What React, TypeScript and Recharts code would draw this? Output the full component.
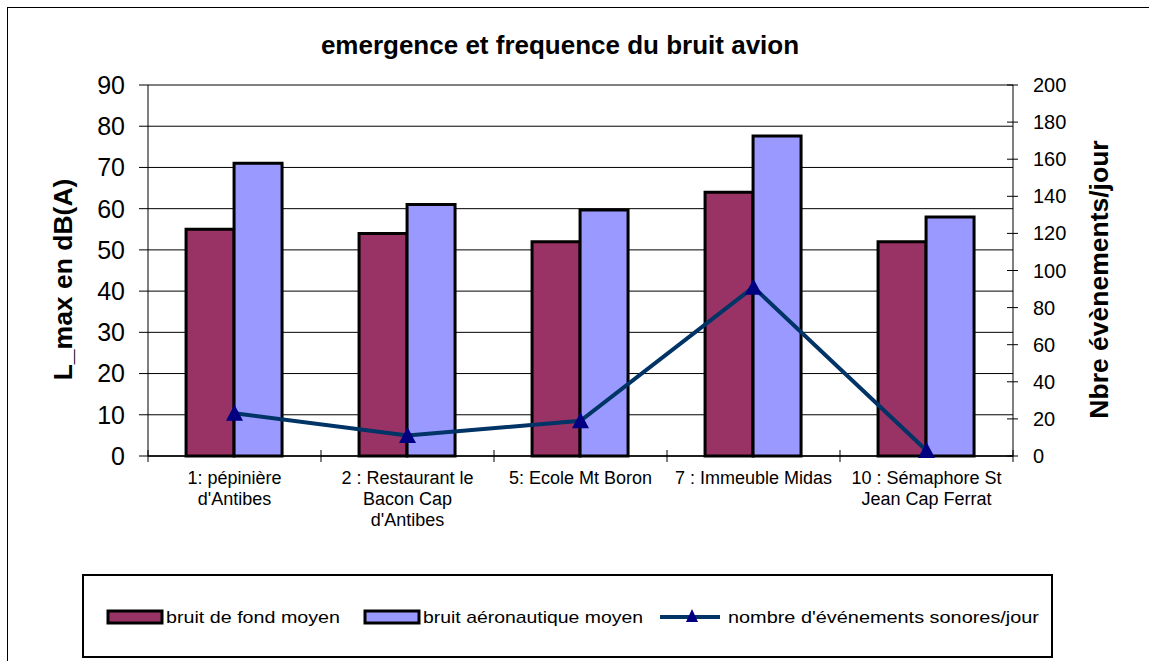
import React from 'react';
import {
  ComposedChart,
  Bar,
  Line,
  XAxis,
  YAxis,
  CartesianGrid,
  Legend,
  ReferenceLine,
} from 'recharts';

const FONT = '"Liberation Sans", Arial, Helvetica, sans-serif';

const categories = [
  "1: pépinière\nd'Antibes",
  "2 : Restaurant le\nBacon Cap\nd'Antibes",
  '5: Ecole Mt Boron',
  '7 : Immeuble Midas',
  '10 : Sémaphore St\nJean Cap Ferrat',
];
const bruitFondMoyen = [55, 54, 52, 64, 52];
const bruitAeroMoyen = [71, 61, 59.7, 77.6, 58];
const evenementsJour = [23, 11, 19, 91, 3];

const leftTicks = [0, 10, 20, 30, 40, 50, 60, 70, 80, 90];
const rightTicks = [0, 20, 40, 60, 80, 100, 120, 140, 160, 180, 200];

const seriesNames = ['bruit de fond moyen', 'bruit aéronautique moyen', "nombre d'événements sonores/jour"];
const title = 'emergence et frequence du bruit avion';
const leftTitle = 'L_max en dB(A)';
const rightTitle = 'Nbre évènements/jour';

const data = categories.map((c, i) => ({
  name: c,
  fond: bruitFondMoyen[i],
  aero: bruitAeroMoyen[i],
  ev: evenementsJour[i],
}));

const MAROON = '#993366';
const LAVENDER = '#9999FF';
const NAVY_LINE = '#003366';
const NAVY_MARK = '#000080';

const Triangle = (props: any) => {
  const { cx, cy } = props;
  if (cx == null || cy == null) return null;
  const s = 8.5;
  return (
    <path
      d={`M${cx},${cy - s} L${cx + s},${cy + s - 1} L${cx - s},${cy + s - 1} Z`}
      fill={NAVY_MARK}
    />
  );
};

const CategoryTick = (props: any) => {
  const { x, y, payload, index } = props;
  const half = payload && typeof payload.offset === 'number' && payload.offset > 0 ? payload.offset : 86.5;
  const lines = String(payload.value).split('\n');
  const isLast = index === categories.length - 1;
  return (
    <g>
      <line x1={x - half} x2={x - half} y1={y - 12} y2={y} stroke="#000" strokeWidth={1} />
      {isLast && <line x1={x + half} x2={x + half} y1={y - 12} y2={y} stroke="#000" strokeWidth={1} />}
      <text x={x} y={y + 22} textAnchor="middle" fontSize={18} fontFamily={FONT} fill="#000">
        {lines.map((l, i) => (
          <tspan key={i} x={x} dy={i === 0 ? 0 : 21}>
            {l}
          </tspan>
        ))}
      </text>
    </g>
  );
};

const RightTick = (props: any) => {
  const { x, y, payload } = props;
  return (
    <g>
      <line x1={x - 26} x2={x - 20} y1={y} y2={y} stroke="#000" strokeWidth={1} />
      <text x={x} y={y} textAnchor="start" dominantBaseline="central" fontSize={20} fontFamily={FONT} fill="#000">
        {payload.value}
      </text>
    </g>
  );
};

const LeftTitle = (props: any) => {
  const vb = props.viewBox || { x: 40, y: 85, width: 108, height: 371 };
  const cx = vb.x + 23;
  const cy = vb.y + vb.height / 2 + 9;
  return (
    <text
      x={cx}
      y={cy}
      transform={`rotate(-90 ${cx} ${cy})`}
      textAnchor="middle"
      dominantBaseline="central"
      fontSize={26.5}
      fontWeight="bold"
      fontFamily={FONT}
      fill="#000"
    >
      {leftTitle}
    </text>
  );
};

const RightTitle = (props: any) => {
  const vb = props.viewBox || { x: 1013, y: 85, width: 100, height: 371 };
  const cx = vb.x + 86;
  const cy = vb.y + vb.height / 2 + 9;
  return (
    <text
      x={cx}
      y={cy}
      transform={`rotate(-90 ${cx} ${cy})`}
      textAnchor="middle"
      dominantBaseline="central"
      fontSize={26.5}
      fontWeight="bold"
      fontFamily={FONT}
      fill="#000"
    >
      {rightTitle}
    </text>
  );
};

const legendLayout = [
  { sx: 26, tx: 84, tw: 174 },
  { sx: 283, tx: 341, tw: 220 },
  { sx: 578, tx: 646, tw: 311 },
];

const renderLegend = (props: any) => {
  const payload: any[] = (props && props.payload) || [];
  const byKey: Record<string, any> = {};
  payload.forEach((p) => {
    byKey[p.dataKey] = p;
  });
  const items = [
    { key: 'fond', type: 'bar', color: (byKey.fond && byKey.fond.color) || MAROON, label: seriesNames[0] },
    { key: 'aero', type: 'bar', color: (byKey.aero && byKey.aero.color) || LAVENDER, label: seriesNames[1] },
    { key: 'ev', type: 'line', color: NAVY_LINE, label: seriesNames[2] },
  ];
  const cy = 43;
  return (
    <svg width={971} height={84} style={{ display: 'block' }}>
      <rect x={1} y={1} width={969} height={82} fill="#fff" stroke="#000" strokeWidth={2} />
      {items.map((it, i) => {
        const L = legendLayout[i];
        return (
          <g key={it.key}>
            {it.type === 'bar' ? (
              <rect x={L.sx} y={cy - 6} width={54} height={12} fill={it.color} stroke="#000" strokeWidth={3} />
            ) : (
              <g>
                <line x1={L.sx} x2={L.sx + 60} y1={cy} y2={cy} stroke={it.color} strokeWidth={4} />
                <path d={`M${L.sx + 32},${cy - 8} L${L.sx + 38},${cy + 5} L${L.sx + 26},${cy + 5} Z`} fill={NAVY_MARK} />
              </g>
            )}
            <text
              x={L.tx}
              y={cy}
              dominantBaseline="central"
              fontSize={17}
              fontFamily={FONT}
              fill="#000"
              textLength={L.tw}
              lengthAdjust="spacingAndGlyphs"
            >
              {it.label}
            </text>
          </g>
        );
      })}
    </svg>
  );
};

export default function App() {
  const W = 1149;
  const H = 661;
  const plotLeft = 148;
  const plotRight = 1013;
  const plotTop = 85;
  const plotBottom = 456;
  const leftAxisW = 108;
  const rightAxisW = 100;
  const xAxisH = 60;
  return (
    <div
      style={{
        position: 'absolute',
        left: 0,
        top: 0,
        width: W,
        height: H,
        overflow: 'hidden',
        background: '#fff',
        fontFamily: FONT,
      }}
    >
      <div
        style={{
          position: 'absolute',
          left: 7,
          top: 7,
          width: 1200,
          height: 720,
          borderLeft: '1px solid #000',
          borderTop: '1px solid #000',
        }}
      />
      <ComposedChart
        width={W}
        height={H}
        data={data}
        margin={{
          top: plotTop,
          left: plotLeft - leftAxisW,
          right: W - plotRight - rightAxisW,
          bottom: H - plotBottom - xAxisH,
        }}
        barCategoryGap="22%"
        barGap={0}
      >
        <CartesianGrid yAxisId="left" vertical={false} stroke="#000" strokeWidth={1} />
        <XAxis
          dataKey="name"
          interval={0}
          height={xAxisH}
          tickLine={false}
          tickSize={6}
          tickMargin={0}
          axisLine={{ stroke: '#000', strokeWidth: 1.5 }}
          tick={<CategoryTick />}
        />
        <YAxis
          yAxisId="left"
          orientation="left"
          width={leftAxisW}
          domain={[0, 90]}
          ticks={leftTicks}
          interval={0}
          tickSize={9}
          tickMargin={14}
          tick={{ fill: '#000', fontSize: 25, fontFamily: FONT }}
          axisLine={{ stroke: '#000' }}
          tickLine={{ stroke: '#000' }}
          label={{ content: <LeftTitle /> }}
        />
        <YAxis
          yAxisId="right"
          orientation="right"
          width={rightAxisW}
          domain={[0, 200]}
          ticks={rightTicks}
          interval={0}
          tickSize={5}
          tickMargin={15}
          tick={<RightTick />}
          axisLine={{ stroke: '#000' }}
          tickLine={{ stroke: '#000' }}
          label={{ content: <RightTitle /> }}
        />
        <ReferenceLine yAxisId="left" y={90} stroke="#808080" strokeWidth={2} />
        <Bar
          yAxisId="left"
          dataKey="fond"
          name={seriesNames[0]}
          fill={MAROON}
          stroke="#000"
          strokeWidth={3}
          isAnimationActive={false}
        />
        <Bar
          yAxisId="left"
          dataKey="aero"
          name={seriesNames[1]}
          fill={LAVENDER}
          stroke="#000"
          strokeWidth={3}
          isAnimationActive={false}
        />
        <Line
          yAxisId="right"
          dataKey="ev"
          name={seriesNames[2]}
          type="linear"
          stroke={NAVY_LINE}
          strokeWidth={4}
          dot={<Triangle />}
          activeDot={false}
          isAnimationActive={false}
        />
        <Legend
          layout="horizontal"
          verticalAlign="middle"
          align="center"
          content={renderLegend}
          wrapperStyle={{ position: 'absolute', left: 82, top: 574, width: 971, height: 84 }}
        />
      </ComposedChart>
      <div
        style={{
          position: 'absolute',
          left: 0,
          top: 29,
          width: 1120,
          textAlign: 'center',
          fontSize: 26,
          lineHeight: '32px',
          fontWeight: 'bold',
          color: '#000',
          whiteSpace: 'nowrap',
        }}
      >
        {title}
      </div>
    </div>
  );
}
